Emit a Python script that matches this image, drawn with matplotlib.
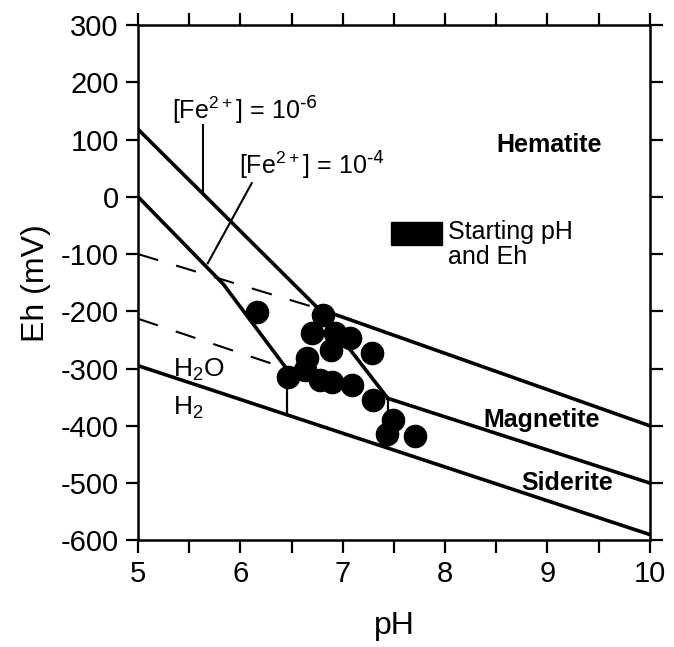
import matplotlib
matplotlib.use("Agg")
import matplotlib.pyplot as plt
from matplotlib.patches import Rectangle

plt.rcParams['font.family'] = ['Liberation Sans', 'DejaVu Sans']
plt.rcParams['mathtext.default'] = 'regular'
plt.rcParams['axes.unicode_minus'] = False

# stability field boundaries (pH, Eh in mV)
fe6_ph = [5.0, 6.76, 7.44]
fe6_eh = [118, -195, -352]
fe4_ph = [5.0, 5.83, 6.45]
fe4_eh = [0, -152, -300]
hem_mag_ph = [6.76, 10.0]
hem_mag_eh = [-195, -400]
mag_sid_ph = [7.44, 10.0]
mag_sid_eh = [-352, -500]
h2o_ph = [5.0, 10.0]
h2o_eh = [-295, -590]
dash1_ph = [5.0, 6.76]
dash1_eh = [-100, -195]
dash2_ph = [5.0, 6.45]
dash2_eh = [-213, -300]
vert_ph = [6.45, 7.44]
vert_top = [-300, -352]
vert_bot = [-381, -439]

# starting pH and Eh
start_ph = [6.16, 6.81, 6.70, 6.92, 7.07, 7.29, 6.65, 6.88, 6.63,
            6.78, 6.89, 7.09, 6.46, 7.30, 7.49, 7.43, 7.71]
start_eh = [-202, -207, -238, -238, -247, -273, -282, -268, -303,
            -320, -324, -329, -315, -355, -390, -415, -418]

fig = plt.figure(figsize=(6.74, 6.47), dpi=100)
ax = fig.add_axes([0.205, 0.165, 0.759, 0.796])

lw = 2.6
ax.plot(fe6_ph, fe6_eh, color='black', lw=lw)
ax.plot(fe4_ph, fe4_eh, color='black', lw=lw)
ax.plot(hem_mag_ph, hem_mag_eh, color='black', lw=lw)
ax.plot(mag_sid_ph, mag_sid_eh, color='black', lw=lw)
ax.plot(h2o_ph, h2o_eh, color='black', lw=lw)
ax.plot(dash1_ph, dash1_eh, color='black', lw=1.5, dashes=(10, 9))
ax.plot(dash2_ph, dash2_eh, color='black', lw=1.5, dashes=(10, 9))
for p, t, b in zip(vert_ph, vert_top, vert_bot):
    ax.plot([p, p], [t, b], color='black', lw=1.6)

ax.plot(start_ph, start_eh, 'o', color='black', ms=16, mec='black')

# leader lines
ax.plot([5.635, 5.635], [126, 5], color='black', lw=1.5)
ax.plot([6.11, 5.68], [24, -116], color='black', lw=1.5)

ax.text(5.33, 122, '[Fe$^{2+}$] = 10$^{\\text{-6}}$', fontsize=18, ha='left', va='bottom')
ax.text(5.99, 26, '[Fe$^{2+}$] = 10$^{\\text{-4}}$', fontsize=18, ha='left', va='bottom')
ax.text(9.02, 90, 'Hematite', fontsize=18, fontweight='bold', ha='center', va='center')
ax.text(8.94, -390, 'Magnetite', fontsize=18, fontweight='bold', ha='center', va='center')
ax.text(9.19, -500, 'Siderite', fontsize=18, fontweight='bold', ha='center', va='center')
ax.text(5.34, -303, 'H$_2$O', fontsize=19, ha='left', va='center')
ax.text(5.34, -368, 'H$_2$', fontsize=19, ha='left', va='center')

ax.add_patch(Rectangle((7.47, -84), 0.5, 40, color='black'))
ax.text(8.03, -40, 'Starting pH\nand Eh', fontsize=18, ha='left', va='top', linespacing=1.05)

ax.set_xlim(5, 10)
ax.set_ylim(-600, 300)
ax.set_xticks([5, 6, 7, 8, 9, 10])
ax.set_xticks([5.5, 6.5, 7.5, 8.5, 9.5], minor=True)
ax.set_yticks(range(-600, 301, 100))
ax.tick_params(which='both', direction='out', length=9, width=1.6,
               top=True, right=True, labelsize=21, pad=5)
for s in ax.spines.values():
    s.set_linewidth(1.8)

ax.set_xlabel('pH', fontsize=23, labelpad=17)
ax.set_ylabel('Eh (mV)', fontsize=23, labelpad=7)

fig.savefig('out.png', dpi=100)
